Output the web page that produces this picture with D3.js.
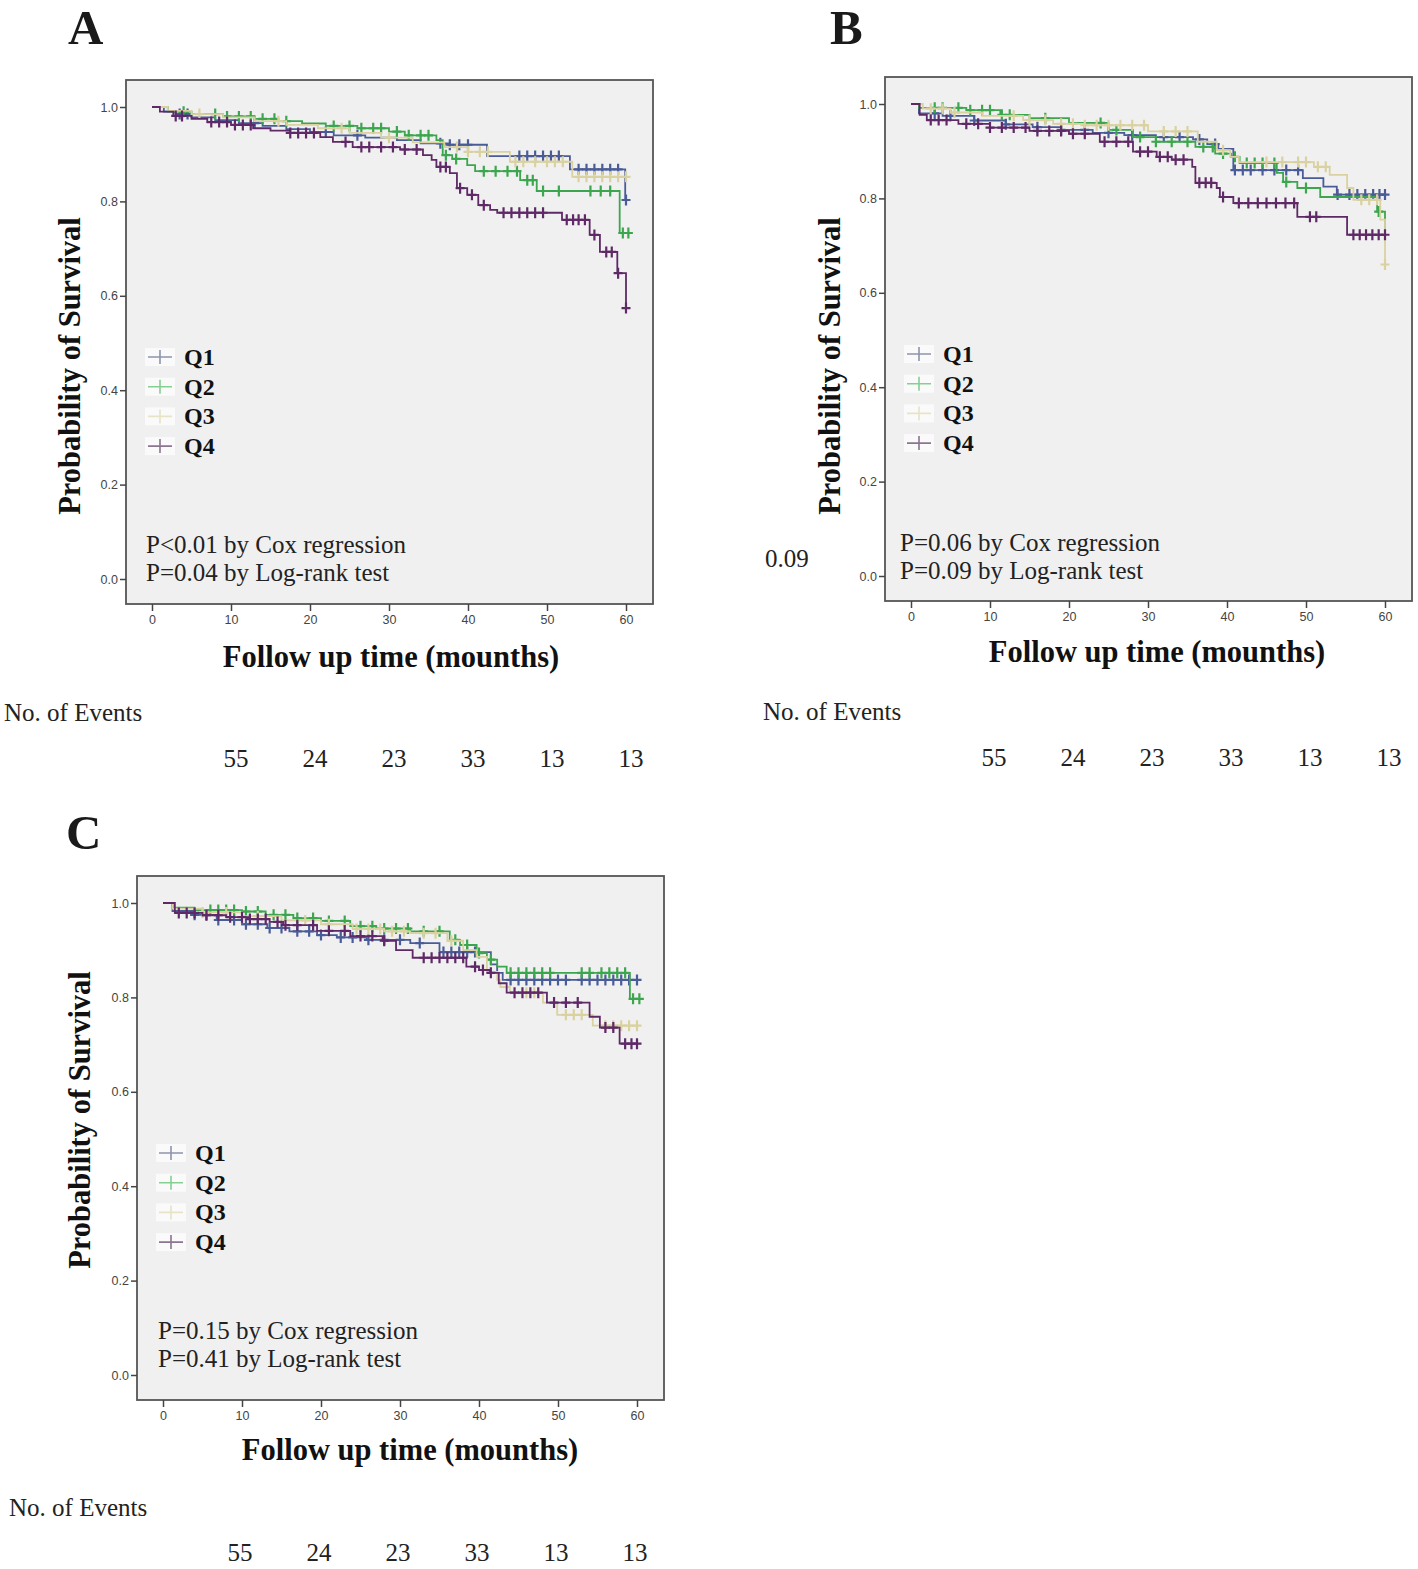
<!DOCTYPE html>
<html><head><meta charset="utf-8">
<script src="https://cdn.jsdelivr.net/npm/d3@7"></script>
<style>body{margin:0;background:#fff}</style>
</head><body><svg id="c" width="1418" height="1569"></svg>
<script>
// ---------- DATA ----------
const seriesNames = ["Q1","Q2","Q3","Q4"];
const xTicks = [0,10,20,30,40,50,60];
const yTicks = [0,0.2,0.4,0.6,0.8,1.0];
const eventTimes = [10,20,30,40,50,60];
const eventCounts = [55,24,23,33,13,13];
const panelLetters = ["A","B","C"];
const coxTexts = ["P<0.01 by Cox regression","P=0.06 by Cox regression","P=0.15 by Cox regression"];
const logrankTexts = ["P=0.04 by Log-rank test","P=0.09 by Log-rank test","P=0.41 by Log-rank test"];

// Panel A  (steps: [time, survival from that time on]; censor: times)
const A_Q1_steps = [[0,1],[1.5,0.99],[3,0.985],[5,0.978],[8,0.972],[11,0.966],[14,0.96],[17,0.953],[20,0.947],[23,0.94],[27,0.935],[31,0.93],[34,0.923],[37.5,0.92],[42.4,0.896],[52.9,0.868],[59.9,0.803]];
const A_Q1_censor = [3.5,4.5,13,22,26,36.5,37.7,38.9,40,46.5,47.5,48.5,49.5,50.5,51.5,54,55,56,57,58,59,60];
const A_Q2_steps = [[0,1],[2,0.99],[5,0.985],[9,0.98],[13,0.975],[16,0.97],[19,0.965],[22,0.96],[26,0.955],[30,0.948],[32,0.94],[36,0.93],[36.8,0.898],[38,0.89],[39.9,0.877],[40.9,0.864],[46.6,0.845],[48.7,0.822],[59.2,0.733]];
const A_Q2_censor = [4,8,9.5,11,12.5,14,15.5,17,23,25,26.5,28,29,31,32.5,34,35,37.2,38.5,42,43.5,45,46.2,47.5,48.2,49.5,51.5,55.5,56.8,58,59.6,60.3];
const A_Q3_steps = [[0,1],[2,0.992],[5,0.985],[9,0.978],[13,0.97],[17,0.962],[21,0.955],[25,0.945],[29,0.935],[33,0.925],[37,0.915],[40,0.905],[45.3,0.884],[53.2,0.852]];
const A_Q3_censor = [6,16,24,30,38.6,40,41.5,42.5,46,47,48.5,50,51,52,54,55,56,57,58,59,60];
const A_Q4_steps = [[0,1],[1,0.99],[2.7,0.981],[5,0.975],[7,0.968],[10,0.962],[12.8,0.955],[15,0.95],[17.5,0.945],[21.3,0.936],[22.9,0.926],[25.4,0.915],[31.4,0.91],[34.3,0.898],[35.4,0.888],[36,0.873],[37.7,0.86],[38.6,0.828],[39.9,0.814],[41.3,0.792],[42.8,0.782],[43.7,0.776],[51.9,0.761],[55.4,0.729],[56.7,0.693],[58.9,0.648],[60,0.574]];
const A_Q4_censor = [3,3.8,7.5,8.5,9.5,10.5,11.5,12.5,17.5,18.5,19.5,20.5,24.5,26.5,27.5,29,30.5,32,33.5,36.5,37.2,39,40.5,42,44.5,45.5,46.5,47.5,48.5,49.5,52.5,53.3,54,54.8,56,57.5,58.2,59,60];

// Panel B
const B_Q1_steps = [[0,1],[1,0.98],[4,0.975],[8,0.965],[12,0.957],[15.4,0.951],[19,0.945],[23,0.939],[27,0.934],[31,0.93],[35.7,0.925],[37.5,0.915],[38.9,0.905],[40.8,0.86],[49.6,0.843],[52.2,0.825],[53.9,0.808]];
const B_Q1_censor = [3,5,8,12,16,19,22,25,28,32,34,36.5,38.5,41,42,43,44.5,46,47.5,49,54,55.5,56.5,57.5,58.5,59.3,60];
const B_Q2_steps = [[0,1],[1,0.992],[7,0.987],[11.3,0.977],[15,0.97],[20,0.96],[25,0.945],[28.1,0.93],[31,0.92],[36,0.909],[38.5,0.895],[40.5,0.888],[41.6,0.875],[46.3,0.854],[47.1,0.835],[48.9,0.822],[51.8,0.803],[59,0.772],[60,0.723]];
const B_Q2_censor = [3,4,6,7.5,9,10,11.5,12.5,17,24,26,29,31,33,35,37,38.2,39.5,41,42.5,43.5,44.5,46,47.5,50,59.2];
const B_Q3_steps = [[0,1],[1.5,0.99],[5,0.982],[9,0.975],[14.2,0.966],[18,0.958],[22,0.955],[30,0.942],[36.3,0.92],[38.7,0.902],[40.4,0.888],[41.5,0.877],[51,0.867],[53,0.85],[55.2,0.822],[56,0.797],[59.4,0.755],[60,0.66]];
const B_Q3_censor = [2.5,4,5.5,13,15,17,19,20.5,22,23.5,25,26.5,28,29.5,32,33.5,35,39.5,45,47,49,50,51.5,52.5,57,58,59,60];
const B_Q4_steps = [[0,1],[1.1,0.977],[2,0.966],[6,0.958],[10,0.95],[15,0.943],[20,0.937],[23.9,0.92],[28.1,0.899],[31.1,0.888],[33,0.882],[35.6,0.867],[36,0.833],[38.7,0.822],[39.1,0.803],[40.8,0.79],[48.9,0.761],[55.2,0.723]];
const B_Q4_censor = [2.5,3.5,4.5,7,8.5,10,11.5,13,14.5,16,17.5,19,20.5,22,24.5,26,27.5,29,30,31.5,32.5,33.5,34.5,36.5,37.3,38,39.5,41.5,42.7,43.9,45,46.2,47.4,48.5,50.5,51.3,56,56.8,57.6,58.4,59.2,60];

// Panel C
const C_Q1_steps = [[0,1],[1.2,0.983],[4,0.975],[6.8,0.964],[10,0.955],[13.2,0.947],[16,0.94],[19.5,0.932],[22,0.927],[25.8,0.922],[31.3,0.915],[35,0.896],[41.5,0.87],[42.3,0.852],[43,0.837]];
const C_Q1_censor = [4,5.5,7,9,10.5,12,13.5,15,17,18.5,20,22.5,24,26,28,30,32.5,35.5,36.5,37.5,38.5,39.5,44,45,46,47,48,49,50,51,53,54,55,56,57,58,59,60];
const C_Q2_steps = [[0,1],[1.2,0.99],[4,0.985],[10,0.982],[13,0.975],[16.5,0.968],[20,0.962],[23.7,0.951],[27,0.946],[31.3,0.94],[36.3,0.922],[37.6,0.911],[39.7,0.894],[41,0.88],[42.3,0.865],[43.5,0.852],[59.1,0.797]];
const C_Q2_censor = [6,7,8,9,10.5,12,14,15.5,17,19,21,23,25,26.5,28,29.5,31,33,35,37,38.5,40,41.5,44,45,46,47,48,49,53,54,55.5,56.5,57.5,58.5,59.5,60.3];
const C_Q3_steps = [[0,1],[1.2,0.988],[5,0.98],[10,0.972],[15,0.963],[20,0.955],[24,0.945],[28,0.94],[31.3,0.936],[36,0.92],[38,0.9],[39.7,0.886],[41,0.854],[42.3,0.837],[42.7,0.822],[43.9,0.81],[48.1,0.789],[49.9,0.763],[54.4,0.74]];
const C_Q3_censor = [5,8,12,18,21,24.5,26,27.5,29,30.5,33,34.5,36.5,46,47,51,52,53,56,57,58,59,60];
const C_Q4_steps = [[0,1],[1.5,0.979],[5,0.974],[8,0.97],[11,0.966],[13.5,0.96],[15.2,0.953],[19.5,0.941],[23.7,0.93],[27.8,0.92],[29.5,0.9],[31.6,0.884],[38.4,0.865],[40,0.858],[41.4,0.852],[42.5,0.83],[43.5,0.81],[48.6,0.789],[54,0.759],[55.3,0.736],[57.8,0.702]];
const C_Q4_censor = [2,3,4,5.5,7,8.5,10,11,12,13,14.5,15.5,17,19,21,23,25,26.5,28,33,34,35,36,37,38,39.5,40.5,41.5,44.5,45.5,46.5,47.5,49.5,51,52.5,56,57,58.5,59.3,60];

// ---------- STYLE / LAYOUT ----------
const colors = ["#4a5c98","#3ca64e","#d9d2a0","#5e2966"];
const legendColors = ["#8d95ad","#86cf93","#e6e3c6","#8b7590"];
const serif = '"Liberation Serif","Times New Roman",serif';
const sans = '"Liberation Sans",Arial,sans-serif';

const panels = [
  {ox:0, oy:0, letter:[68,44], yTitle:[80,366], xTitle:[391,667], pPos:[146,553], evLabel:[4,721], evNumY:767, evDx:5,
   steps:[A_Q1_steps,A_Q2_steps,A_Q3_steps,A_Q4_steps], cens:[A_Q1_censor,A_Q2_censor,A_Q3_censor,A_Q4_censor]},
  {ox:759, oy:-3, letter:[830,44], yTitle:[840,366], xTitle:[1157,662], pPos:[900,551], evLabel:[763,720], evNumY:766, evDx:4,
   steps:[B_Q1_steps,B_Q2_steps,B_Q3_steps,B_Q4_steps], cens:[B_Q1_censor,B_Q2_censor,B_Q3_censor,B_Q4_censor]},
  {ox:11, oy:796, letter:[66,849], yTitle:[90,1120], xTitle:[410,1460], pPos:[158,1339], evLabel:[9,1516], evNumY:1561, evDx:-2,
   steps:[C_Q1_steps,C_Q2_steps,C_Q3_steps,C_Q4_steps], cens:[C_Q1_censor,C_Q2_censor,C_Q3_censor,C_Q4_censor]}
];

const svg = d3.select("#c");
const bis = d3.bisector(d => d[0]).right;
function sAt(steps, t){ const i = bis(steps, t) - 1; return steps[Math.max(0,i)][1]; }

panels.forEach((p, pi) => {
  const g = svg.append("g").attr("transform", `translate(${p.ox},${p.oy})`);
  const x = d3.scaleLinear().domain([0,60]).range([152,626]);
  const y = d3.scaleLinear().domain([0,1]).range([579,107]);

  g.append("rect").attr("x",126).attr("y",80).attr("width",527).attr("height",524)
    .attr("fill","#f0f0f0").attr("stroke","#555").attr("stroke-width",1.8);

  const ya = g.append("g").attr("transform","translate(126,0)")
    .call(d3.axisLeft(y).tickValues(yTicks).tickFormat(d3.format(".1f")).tickSize(6).tickPadding(2));
  const xa = g.append("g").attr("transform","translate(0,604)")
    .call(d3.axisBottom(x).tickValues(xTicks).tickSize(7).tickPadding(4));
  [ya,xa].forEach(a => {
    a.select(".domain").remove();
    a.selectAll("line").attr("stroke","#444").attr("stroke-width",1.5);
    a.selectAll("text").attr("font-family",sans).attr("font-size",12.5).attr("fill","#444");
  });

  const line = d3.line().x(d => x(d[0])).y(d => y(d[1])).curve(d3.curveStepAfter);
  seriesNames.forEach((nm, si) => {
    const st = p.steps[si], cs = p.cens[si];
    const endT = Math.max(60, d3.max(cs));
    const pts = st.concat([[endT, st[st.length-1][1]]]);
    g.append("path").attr("d", line(pts)).attr("fill","none")
      .attr("stroke", colors[si]).attr("stroke-width",1.8);
    g.append("g").selectAll("path").data(cs).join("path")
      .attr("transform", t => `translate(${x(t)},${y(sAt(st,t))})`)
      .attr("d","M-4.5,0H4.5M0,-5.5V5.5")
      .attr("stroke", colors[si]).attr("stroke-width",2.2).attr("fill","none");
  });

  // legend
  seriesNames.forEach((nm, si) => {
    const yc = 357 + si*29.7;
    g.append("rect").attr("x",145).attr("y",yc-9).attr("width",30).attr("height",18).attr("fill","#fafafa");
    g.append("path").attr("d",`M148,${yc}H172M160,${yc-7}V${yc+7}`)
      .attr("stroke",legendColors[si]).attr("stroke-width",1.6);
    g.append("text").attr("x",184).attr("y",yc+8).text(nm)
      .attr("font-family",serif).attr("font-weight","bold").attr("font-size",24).attr("fill","#111");
  });

  // p-value text (absolute positions)
  svg.append("text").attr("x",p.pPos[0]).attr("y",p.pPos[1]).text(coxTexts[pi])
    .attr("font-family",serif).attr("font-size",25).attr("fill","#222");
  svg.append("text").attr("x",p.pPos[0]).attr("y",p.pPos[1]+28).text(logrankTexts[pi])
    .attr("font-family",serif).attr("font-size",25).attr("fill","#222");

  // titles
  svg.append("text").attr("transform",`translate(${p.yTitle[0]},${p.yTitle[1]}) rotate(-90)`)
    .attr("text-anchor","middle").text("Probability of Survival")
    .attr("font-family",serif).attr("font-weight","bold").attr("font-size",30.5).attr("fill","#111");
  svg.append("text").attr("x",p.xTitle[0]).attr("y",p.xTitle[1]).attr("text-anchor","middle")
    .text("Follow up time (mounths)")
    .attr("font-family",serif).attr("font-weight","bold").attr("font-size",30.5).attr("fill","#111");
  svg.append("text").attr("x",p.letter[0]).attr("y",p.letter[1]).text(panelLetters[pi])
    .attr("font-family",serif).attr("font-weight","bold").attr("font-size",49).attr("fill","#1a1a1a");

  // events row
  svg.append("text").attr("x",p.evLabel[0]).attr("y",p.evLabel[1]).text("No. of Events")
    .attr("font-family",serif).attr("font-size",25).attr("fill","#222");
  svg.append("g").selectAll("text").data(eventTimes).join("text")
    .attr("x",(t) => p.ox + x(t) + p.evDx).attr("y",p.evNumY).attr("text-anchor","middle")
    .text((t,i) => eventCounts[i])
    .attr("font-family",serif).attr("font-size",25).attr("fill","#222");
});

// stray label in panel B
svg.append("text").attr("x",765).attr("y",567).text("0.09")
  .attr("font-family",serif).attr("font-size",25).attr("fill","#222");
</script>
</body></html>
